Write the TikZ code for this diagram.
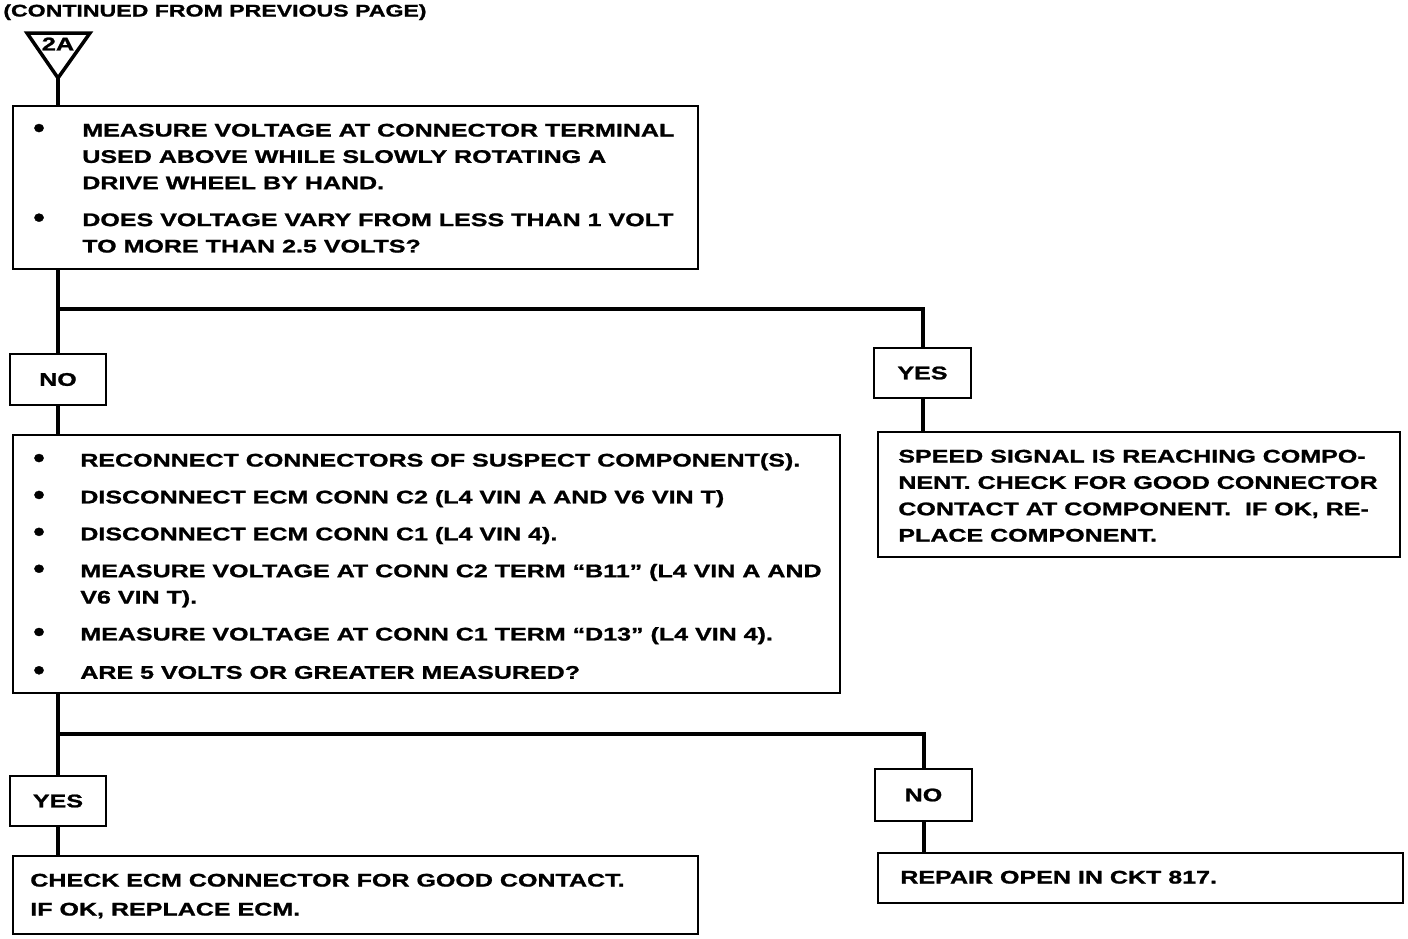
\documentclass[tikz,border=0pt]{standalone}
\usepackage{fontspec}
\setmainfont{Liberation Sans}[FakeStretch=1.37, BoldFeatures={FakeBold=1.2}]
\usetikzlibrary{positioning}

\newcommand\flowfont{\fontsize{10.4}{15}\selectfont\bfseries}
\newcommand\blt{\raisebox{-0.5pt}{\scalebox{1.3}[1.55]{\textbullet}}}

\tikzset{
  box/.style={draw, line width=0.04cm, inner sep=0pt, anchor=north west},
  tag/.style={draw, line width=0.04cm, inner sep=0pt, anchor=north west,
              minimum height=1cm, font=\flowfont},
  txt/.style={inner sep=0pt, anchor=base west, font=\flowfont},
  flow/.style={line width=0.08cm}
}

\begin{document}
\begin{tikzpicture}[x=0.02cm, y=-0.02cm]
  \useasboundingbox (0,0) rectangle (1408,938);

  % --- header and off-page marker
  \node[txt, font=\fontsize{9.6}{12}\selectfont\bfseries] (cont) at (3,16.5)
    {(CONTINUED FROM PREVIOUS PAGE)};
  \draw[line width=0.07cm, line join=miter] (27,33) -- (90,33) -- (58,78) -- cycle;
  \coordinate (tip) at (58,78);
  \node[font=\fontsize{10.5}{12}\selectfont\bfseries, inner sep=0pt] (mark) at (58,44) {2A};

  % --- first test
  \node[box, minimum width=13.7cm, minimum height=3.26cm] (test1) at (12,105) {};
  \node[txt] (test1txt) at (33,136.5) {\begin{tabular}[t]{@{}p{0.98cm}@{}l@{}}
    \blt & MEASURE VOLTAGE AT CONNECTOR TERMINAL\\
         & USED ABOVE WHILE SLOWLY ROTATING A\\
         & DRIVE WHEEL BY HAND.\\[6pt]
    \blt & DOES VOLTAGE VARY FROM LESS THAN 1 VOLT\\
         & TO MORE THAN 2.5 VOLTS?
  \end{tabular}};

  \coordinate (split1) at (0,309);
  \node[tag, minimum width=1.92cm, minimum height=1.02cm] (no1)  at (9,353)   {NO};
  \node[tag, minimum width=1.94cm] (yes1) at (873,347) {YES};

  % --- second test
  \node[box, minimum width=16.54cm, minimum height=5.16cm] (test2) at (12,434) {};
  \node[txt] (test2txt) at (33,466.5) {\begin{tabular}[t]{@{}p{0.94cm}@{}l@{}}
    \blt & RECONNECT CONNECTORS OF SUSPECT COMPONENT(S).\\[6pt]
    \blt & DISCONNECT ECM CONN C2 (L4 VIN A AND V6 VIN T)\\[6pt]
    \blt & DISCONNECT ECM CONN C1 (L4 VIN 4).\\[6pt]
    \blt & MEASURE VOLTAGE AT CONN C2 TERM “B11” (L4 VIN A AND\\
         & V6 VIN T).\\[6pt]
    \blt & MEASURE VOLTAGE AT CONN C1 TERM “D13” (L4 VIN 4).\\[6.8pt]
    \blt & ARE 5 VOLTS OR GREATER MEASURED?
  \end{tabular}};

  \node[box, minimum width=10.44cm, minimum height=2.5cm] (signal) at (877,431) {};
  \node[txt] (signaltxt) at (898,462.5) {\begin{tabular}[t]{@{}l@{}}
    SPEED SIGNAL IS REACHING COMPO-\\
    NENT. CHECK FOR GOOD CONNECTOR\\
    CONTACT AT COMPONENT.\ \ IF OK, RE-\\
    PLACE COMPONENT.
  \end{tabular}};

  \coordinate (split2) at (0,734);
  \node[tag, minimum width=1.92cm] (yes2) at (9,775)   {YES};
  \node[tag, minimum width=1.94cm, minimum height=1.04cm] (no2)  at (874,768) {NO};

  % --- results
  \node[box, minimum width=13.7cm, minimum height=1.56cm] (ecm) at (12,855) {};
  \node[txt] (ecmtxt) at (30,886.5) {\begin{tabular}[t]{@{}l@{}}
    CHECK ECM CONNECTOR FOR GOOD CONTACT.\\[1.5pt]
    IF OK, REPLACE ECM.
  \end{tabular}};

  \node[box, minimum width=10.5cm, minimum height=1cm] (repair) at (877,852) {};
  \node[txt] (repairtxt) at (900,883.5) {REPAIR OPEN IN CKT 817.};

  % --- connectors
  \draw[flow] (tip) -- (tip |- test1.north);
  \draw[flow] (no1.north |- test1.south) -- (no1.north);
  \draw[flow] (no1.north |- split1) -| (yes1.north);
  \draw[flow] (no1.south) -- (no1.south |- test2.north);
  \draw[flow] (yes1.south) -- (yes1.south |- signal.north);
  \draw[flow] (yes2.north |- test2.south) -- (yes2.north);
  \draw[flow] (yes2.north |- split2) -| (no2.north);
  \draw[flow] (yes2.south) -- (yes2.south |- ecm.north);
  \draw[flow] (no2.south) -- (no2.south |- repair.north);
\end{tikzpicture}
\end{document}
